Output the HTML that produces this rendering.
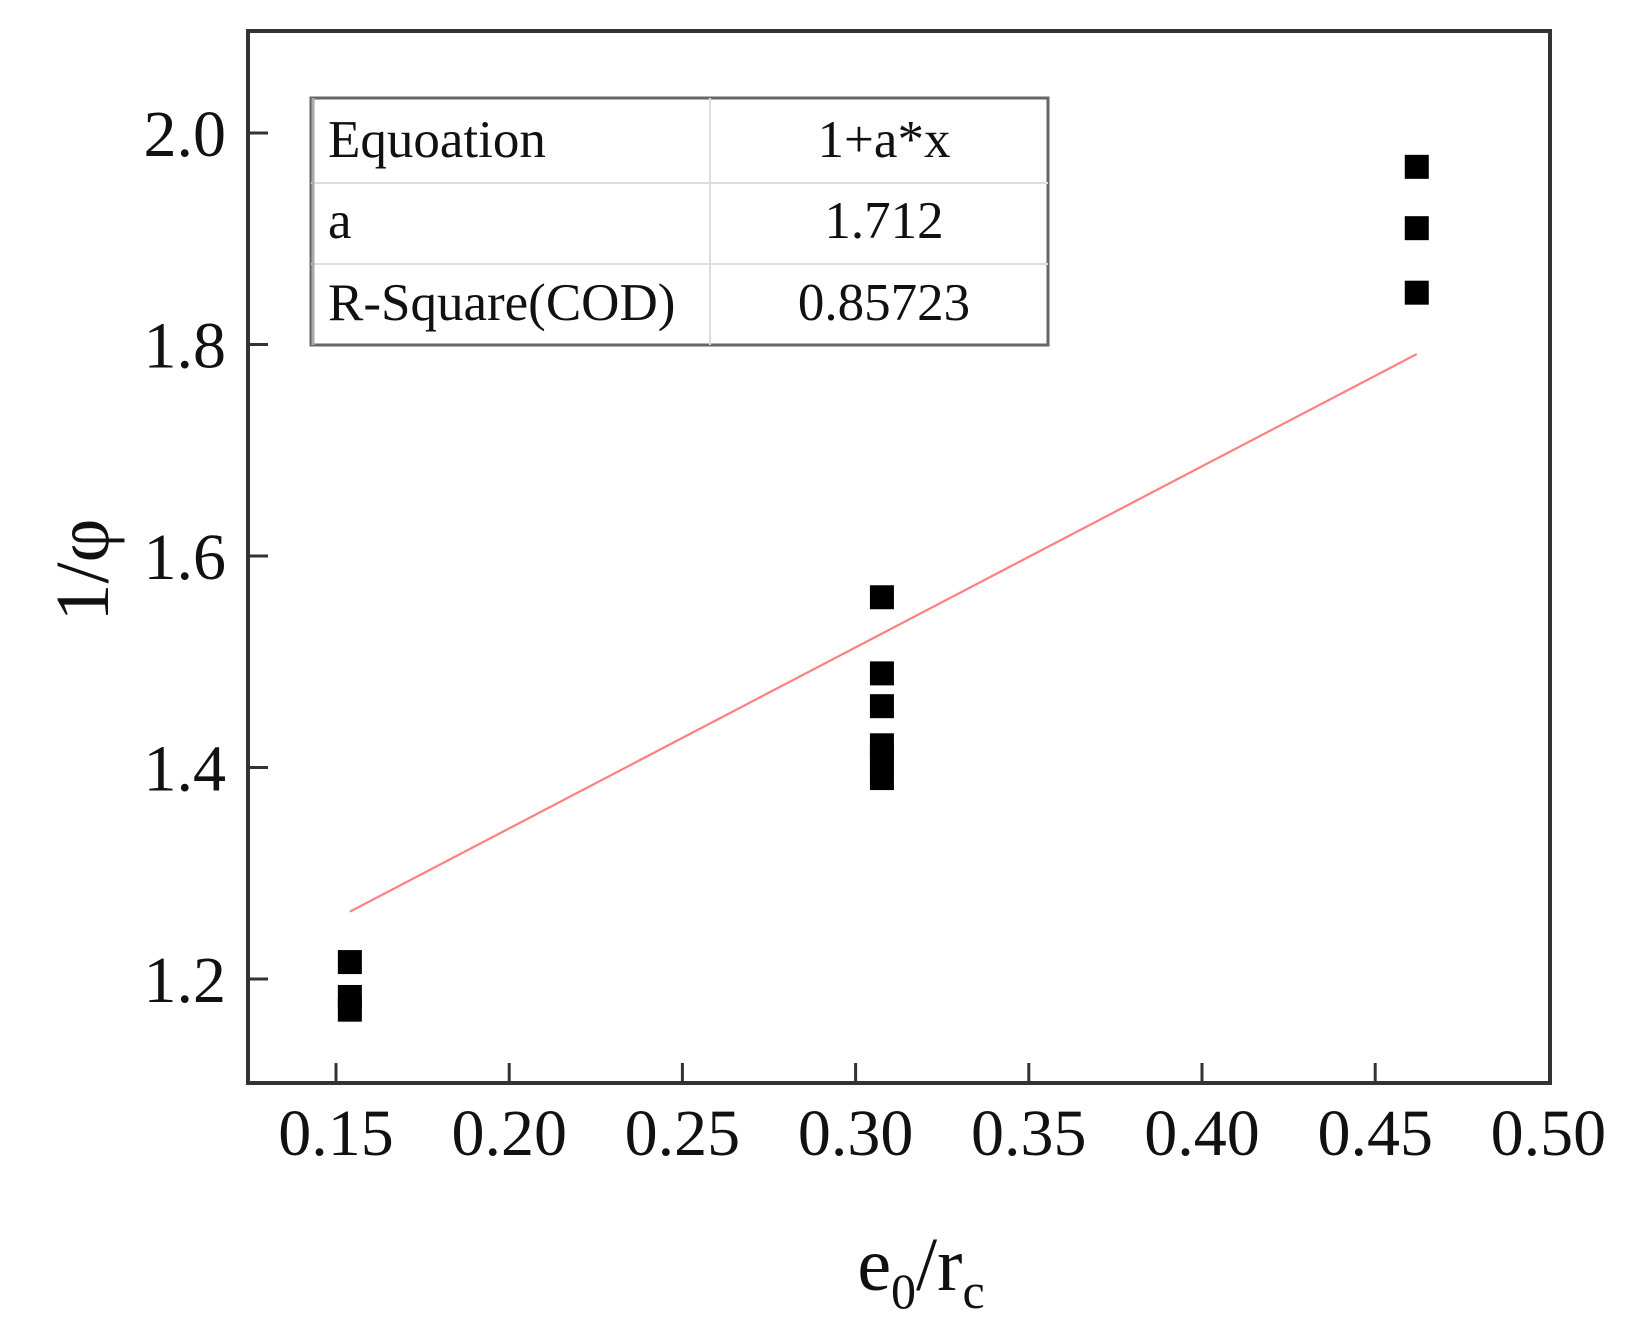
<!DOCTYPE html>
<html><head><meta charset="utf-8"><style>
html,body{margin:0;padding:0;background:#fff;}
svg{display:block;}
text{font-family:"Liberation Serif",serif;fill:#111;}
</style></head><body>
<svg id="chart" width="1630" height="1338" viewBox="0 0 1630 1338">
<g id="grid"></g>
<g id="marks"></g>
<g id="axes"></g>
<g id="fit-table">
<rect x="311" y="98" width="737" height="247" fill="#fff" stroke="#666" stroke-width="3"/>
<line x1="311" y1="183" x2="1048" y2="183" stroke="#ddd" stroke-width="2"/>
<line x1="311" y1="264" x2="1048" y2="264" stroke="#ddd" stroke-width="2"/>
<line x1="710" y1="98" x2="710" y2="345" stroke="#ddd" stroke-width="2"/>
<line x1="313" y1="98" x2="313" y2="345" stroke="#aaa" stroke-width="3"/>
<text x="328" y="157" font-size="53">Equoation</text>
<text x="884" y="157" font-size="53" text-anchor="middle">1+a*x</text>
<text x="328" y="238" font-size="53">a</text>
<text x="884" y="238" font-size="53" text-anchor="middle">1.712</text>
<text x="328" y="320" font-size="53">R-Square(COD)</text>
<text x="884" y="320" font-size="53" text-anchor="middle">0.85723</text>
</g>
<text transform="translate(108,570) rotate(-90)" font-size="76" text-anchor="middle">1/φ</text>
<text x="921" y="1290" font-size="76" text-anchor="middle">e<tspan font-size="50" dy="18">0</tspan><tspan dy="-18">/r</tspan><tspan font-size="50" dy="18">c</tspan></text>
</svg>
<script>
const xValues = [0.154,0.154,0.154,0.3076,0.3076,0.3076,0.3076,0.3076,0.3076,0.462,0.462,0.462];
const yValues = [1.216,1.183,1.171,1.561,1.489,1.458,1.421,1.409,1.390,1.968,1.910,1.849];
const xTicks = [0.15,0.20,0.25,0.30,0.35,0.40,0.45,0.50];
const xTickLabels = ["0.15","0.20","0.25","0.30","0.35","0.40","0.45","0.50"];
const yTicks = [1.2,1.4,1.6,1.8,2.0];
const yTickLabels = ["1.2","1.4","1.6","1.8","2.0"];
const fitA = [1.712];
const fitRange = [0.154,0.462];

const NS="http://www.w3.org/2000/svg";
const L=248,R=1550,T=31,B=1083;
function sx(v){return 336+(v-0.15)*3464;}
function sy(v){return 133+(2.0-v)*1057.5;}
function mk(tag,attrs,parent){const e=document.createElementNS(NS,tag);for(const k in attrs)e.setAttribute(k,attrs[k]);parent.appendChild(e);return e;}
const axes=document.getElementById('axes'),marks=document.getElementById('marks');

const fl=mk('line',{x1:sx(fitRange[0]),y1:sy(1+fitA[0]*fitRange[0]),x2:sx(fitRange[1]),y2:sy(1+fitA[0]*fitRange[1]),stroke:'#ff8080','stroke-width':2.2},marks);



for(let i=0;i<xValues.length;i++){
  const r=mk('rect',{x:sx(xValues[i])-12,y:sy(yValues[i])-12,width:24,height:24,fill:'#000'},marks);
  
  
}

const fr=mk('rect',{x:L,y:T,width:R-L,height:B-T,fill:'none',stroke:'#333','stroke-width':4},axes);



xTicks.forEach((v,i)=>{
  const x=sx(v);
  if(x<R-2){
    const t=mk('line',{x1:x,y1:B,x2:x,y2:B-20,stroke:'#333','stroke-width':3},axes);
    
    
  }
  const lb=mk('text',{x:x,y:1155,'font-size':66,'text-anchor':'middle'},axes);
  lb.textContent=xTickLabels[i];
  
  
});
yTicks.forEach((v,i)=>{
  const y=sy(v);
  const t=mk('line',{x1:L,y1:y,x2:L+20,y2:y,stroke:'#333','stroke-width':3},axes);
  
  
  const lb=mk('text',{x:226,y:y+23,'font-size':66,'text-anchor':'end'},axes);
  lb.textContent=yTickLabels[i];
  
  
});
</script>
</body></html>
